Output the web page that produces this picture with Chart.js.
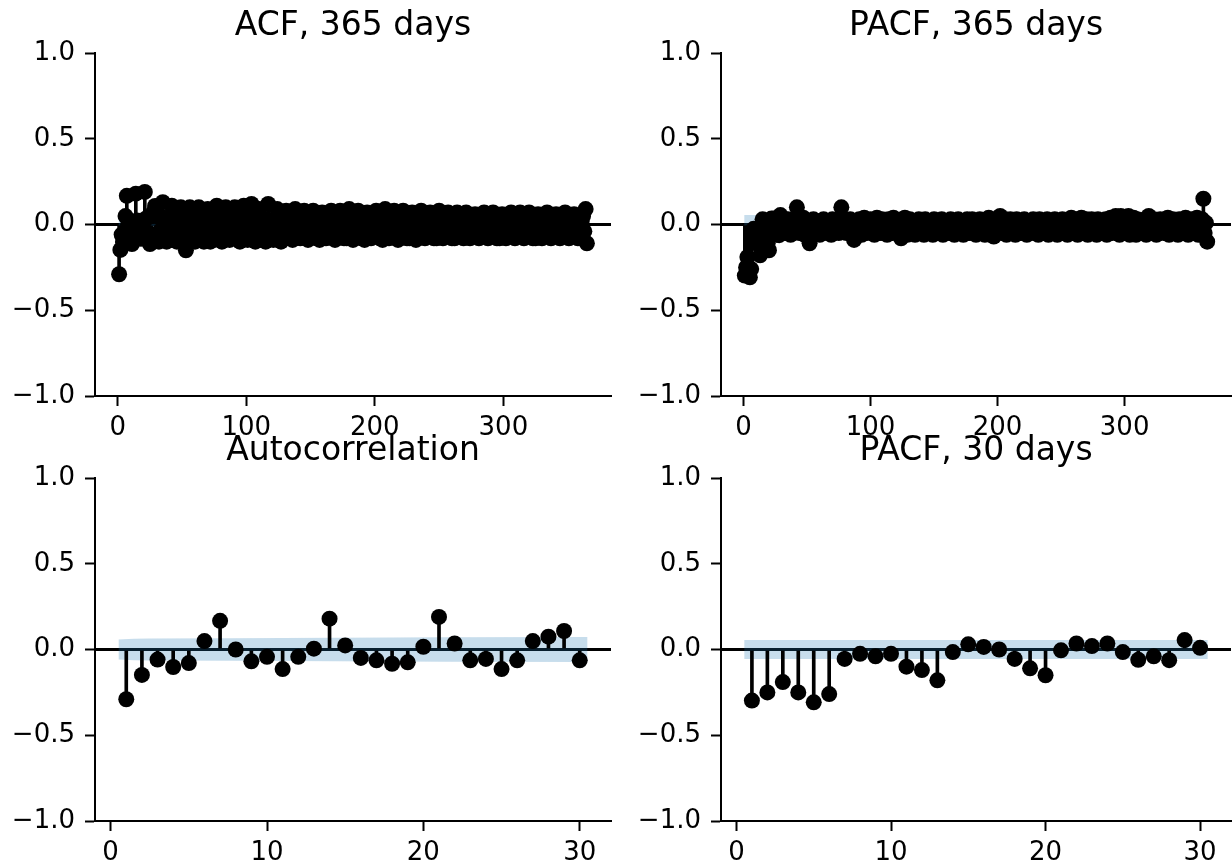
<!DOCTYPE html>
<html>
<head>
<meta charset="utf-8">
<script src="https://cdn.jsdelivr.net/npm/chart.js@4.4.1/dist/chart.umd.min.js"></script>
<style>
  html, body { margin: 0; padding: 0; background: #fff; }
  body { width: 1232px; height: 868px; position: relative; overflow: hidden; }
  canvas { position: absolute; }
</style>
</head>
<body>
<canvas id="acfLong"  width="616" height="442" style="left:0;top:0"></canvas>
<canvas id="pacfLong" width="616" height="442" style="left:616px;top:0"></canvas>
<canvas id="acfShort" width="616" height="443" style="left:0;top:425px"></canvas>
<canvas id="pacfShort" width="616" height="443" style="left:616px;top:425px"></canvas>
<script>
// ACF / PACF plots - lag values

// --- lags 1..30 ---
const acf30 = [
  -0.29, -0.148, -0.059, -0.102, -0.079, 0.049, 0.167, 0.0, -0.069, -0.043,
  -0.114, -0.043, 0.005, 0.18, 0.024, -0.049, -0.063, -0.083, -0.075, 0.016,
  0.19, 0.035, -0.063, -0.055, -0.114, -0.063, 0.049, 0.075, 0.108, -0.063
];
const pacf30 = [
  -0.298, -0.25, -0.19, -0.25, -0.308, -0.26, -0.055, -0.025, -0.04, -0.025,
  -0.10, -0.12, -0.18, -0.015, 0.03, 0.015, 0.0, -0.055, -0.11, -0.15,
  -0.005, 0.035, 0.02, 0.035, -0.015, -0.06, -0.04, -0.062, 0.055, 0.01
];

// --- lags 31..365 (blob in the top panels, estimated) ---
const acfTail = [
  -0.05, -0.10, -0.04, 0.03, 0.13, 0.04, -0.06, -0.10, -0.05, -0.08,
  0.02, 0.11, 0.05, -0.07, -0.04, -0.10, -0.06, 0.01, 0.10, 0.03,
  -0.06, -0.09, -0.15, -0.05, 0.04, 0.10, 0.02, -0.07, -0.04, -0.10,
  -0.05, 0.03, 0.10, 0.04, -0.08, -0.05, -0.10, -0.03, 0.02, 0.09,
  -0.04, -0.10, -0.06, -0.08, 0.01, 0.05, 0.11, 0.02, -0.07, -0.05,
  -0.10, -0.04, 0.03, 0.10, 0.04, -0.06, -0.09, -0.05, -0.07, 0.02,
  0.10, 0.03, -0.08, -0.05, -0.10, -0.04, 0.04, 0.11, 0.02, -0.06,
  -0.09, -0.05, 0.05, 0.12, 0.03, -0.07, -0.10, -0.04, 0.02, 0.09,
  0.04, -0.06, -0.08, -0.05, -0.10, 0.03, 0.12, 0.02, -0.07, -0.04,
  -0.09, -0.05, 0.02, 0.09, 0.03, -0.06, -0.10, -0.04, -0.07, 0.01,
  0.08, 0.04, -0.05, -0.08, -0.06, -0.09, 0.02, 0.09, 0.03, -0.06,
  -0.04, -0.08, -0.05, 0.03, 0.08, 0.02, -0.07, -0.09, -0.05, -0.06,
  0.02, 0.08, 0.04, -0.05, -0.08, -0.04, -0.09, 0.01, 0.07, 0.03,
  -0.06, -0.08, -0.05, -0.07, 0.03, 0.08, 0.02, -0.05, -0.09, -0.04,
  -0.07, 0.02, 0.08, 0.03, -0.06, -0.08, -0.05, -0.08, 0.03, 0.09,
  0.02, -0.05, -0.09, -0.04, -0.07, 0.01, 0.08, 0.03, -0.06, -0.08,
  -0.05, -0.09, 0.02, 0.07, 0.04, -0.05, -0.08, -0.06, -0.07, 0.03,
  0.08, 0.02, -0.06, -0.08, -0.04, -0.09, 0.02, 0.09, 0.03, -0.05,
  -0.08, -0.05, -0.07, 0.02, 0.08, 0.03, -0.06, -0.09, -0.05, -0.07,
  0.03, 0.08, 0.02, -0.05, -0.08, -0.04, -0.08, 0.02, 0.07, 0.03,
  -0.06, -0.09, -0.05, -0.07, 0.03, 0.08, 0.02, -0.05, -0.08, -0.04,
  -0.07, 0.02, 0.07, 0.03, -0.06, -0.08, -0.05, -0.08, 0.02, 0.08,
  0.02, -0.05, -0.08, -0.04, -0.07, 0.02, 0.07, 0.03, -0.06, -0.08,
  -0.05, -0.08, 0.02, 0.07, 0.02, -0.05, -0.07, -0.04, -0.08, 0.03,
  0.07, 0.02, -0.06, -0.08, -0.05, -0.07, 0.02, 0.06, 0.03, -0.05,
  -0.08, -0.04, -0.07, 0.02, 0.07, 0.02, -0.06, -0.08, -0.05, -0.07,
  0.03, 0.07, 0.02, -0.05, -0.08, -0.04, -0.08, 0.02, 0.06, 0.03,
  -0.06, -0.08, -0.05, -0.07, 0.02, 0.07, 0.02, -0.05, -0.08, -0.04,
  -0.07, 0.03, 0.07, 0.02, -0.06, -0.08, -0.05, -0.07, 0.02, 0.07,
  0.03, -0.05, -0.08, -0.04, -0.08, 0.02, 0.06, 0.02, -0.06, -0.08,
  -0.05, -0.07, 0.02, 0.07, 0.03, -0.05, -0.08, -0.04, -0.07, 0.02,
  0.06, 0.02, -0.06, -0.08, -0.05, -0.07, 0.03, 0.07, 0.02, -0.05,
  -0.08, -0.04, -0.07, 0.02, 0.06, 0.03, -0.06, -0.08, -0.05, -0.07,
  0.02, 0.05, -0.04, 0.09, -0.11
];
const pacfTail = [
  -0.03, 0.01, -0.05, 0.02, 0.03, -0.02, -0.06, 0.01, -0.04, 0.02,
  -0.02, 0.10, 0.03, -0.05, 0.01, -0.03, 0.04, -0.06, 0.02, -0.02,
  -0.04, -0.11, 0.01, -0.03, 0.03, 0.02, -0.05, -0.02, 0.01, -0.06,
  0.02, -0.03, 0.03, -0.04, 0.01, -0.05, 0.02, -0.02, -0.06, 0.03,
  -0.03, 0.01, -0.04, 0.02, -0.05, 0.03, 0.10, -0.02, -0.04, 0.01,
  -0.05, 0.02, -0.02, 0.03, -0.04, 0.01, -0.09, -0.03, 0.02, -0.05,
  0.03, -0.02, -0.06, 0.01, 0.04, -0.03, -0.05, 0.02, -0.02, 0.03,
  -0.04, 0.01, -0.06, 0.02, 0.04, -0.03, 0.01, -0.05, 0.03, -0.02,
  -0.04, 0.02, -0.06, 0.03, -0.02, 0.01, -0.05, 0.04, -0.03, 0.02,
  -0.05, 0.01, -0.02, -0.08, 0.03, -0.04, 0.04, -0.02, -0.06, 0.01,
  0.03, -0.04, -0.02, 0.02, -0.06, 0.01, -0.03, 0.03, -0.05, 0.02,
  -0.02, -0.06, 0.03, -0.03, 0.01, -0.05, 0.02, -0.02, -0.06, 0.03,
  -0.03, 0.01, -0.05, 0.02, -0.02, 0.03, -0.06, 0.01, -0.04, 0.02,
  -0.02, -0.05, 0.03, -0.03, 0.01, -0.06, 0.02, -0.03, 0.03, -0.05,
  0.01, -0.02, -0.06, 0.02, -0.04, 0.03, -0.02, -0.05, 0.01, 0.03,
  -0.04, 0.02, -0.06, 0.01, -0.03, 0.03, -0.05, 0.02, -0.02, -0.06,
  0.02, -0.03, 0.04, -0.05, 0.01, -0.02, -0.07, 0.03, -0.03, 0.02,
  -0.04, 0.05, 0.02, -0.05, -0.02, 0.03, -0.06, 0.01, -0.03, 0.03,
  -0.05, 0.02, -0.02, -0.06, 0.03, -0.03, 0.01, -0.05, 0.02, -0.04,
  0.03, -0.02, -0.06, 0.01, -0.04, 0.02, -0.03, 0.03, -0.05, 0.01,
  -0.02, -0.06, 0.03, -0.03, 0.02, -0.05, 0.01, -0.04, 0.03, -0.06,
  0.02, -0.03, 0.01, -0.05, 0.03, -0.02, -0.06, 0.02, -0.04, 0.01,
  0.03, -0.05, -0.02, 0.02, -0.06, 0.01, -0.03, 0.04, -0.05, 0.02,
  -0.03, 0.03, -0.06, 0.01, -0.02, 0.04, -0.05, 0.02, -0.04, 0.03,
  -0.06, 0.01, -0.03, 0.03, -0.05, 0.02, -0.02, -0.06, 0.03, -0.03,
  0.02, -0.05, 0.01, -0.04, 0.03, -0.06, 0.02, -0.02, 0.04, -0.05,
  0.02, -0.03, 0.05, -0.04, 0.03, -0.06, 0.05, -0.02, 0.03, -0.05,
  0.04, -0.03, 0.05, -0.06, 0.02, -0.04, 0.04, -0.02, -0.06, 0.03,
  -0.03, 0.02, -0.05, 0.01, -0.04, 0.03, -0.06, 0.02, 0.05, -0.03,
  0.01, -0.05, 0.03, -0.02, -0.06, 0.02, -0.04, 0.03, -0.03, 0.01,
  -0.05, 0.03, -0.02, 0.04, -0.06, 0.01, -0.03, 0.03, -0.05, 0.02,
  -0.02, -0.06, 0.03, -0.04, 0.02, -0.05, 0.01, 0.04, -0.03, -0.06,
  0.02, -0.04, 0.03, -0.05, 0.01, -0.02, 0.04, -0.06, 0.02, -0.03,
  0.03, 0.15, -0.05, 0.01, -0.10
];
const acf365 = acf30.concat(acfTail);
const pacf365 = pacf30.concat(pacfTail);

// confidence band (half width) at a few lags
const acfBandLongLags = [0.5, 2, 10, 30, 60, 120, 200, 300, 365.5];
const acfBandLongHalf = [0.058, 0.063, 0.066, 0.072, 0.078, 0.085, 0.09, 0.094, 0.096];
const acfBandShortLags = [0.5, 1.5, 2.5, 7.5, 14.5, 21.5, 30.5];
const acfBandShortHalf = [0.058, 0.062, 0.064, 0.065, 0.068, 0.071, 0.073];
const pacfBandLongLags = [0.5, 365.5];
const pacfBandShortLags = [0.5, 30.5];
const pacfBandHalf = 0.055;

const ticksLong = [0, 100, 200, 300];
const ticksShort = [0, 10, 20, 30];
const yTicks = [-1, -0.5, 0, 0.5, 1];

Chart.defaults.font.family = "'DejaVu Sans', sans-serif";
Chart.defaults.color = '#000';

function toPoints(vals) {
  return vals.map((v, i) => ({ x: i + 1, y: v }));
}

function makeChart(id, title, vals, bandLags, bandHalf, xMin, xMax, xTicks, yAxisWidth, padRight, xAxisHeight) {
  const upper = bandLags.map((x, i) => ({ x: x, y: bandHalf[i] }));
  const lower = bandLags.map((x, i) => ({ x: x, y: -bandHalf[i] }));
  const pts = toPoints(vals);
  return new Chart(document.getElementById(id), {
    type: 'scatter',
    data: {
      datasets: [
        { type: 'line', data: lower, borderWidth: 0, pointRadius: 0, fill: false, order: 5 },
        { type: 'line', data: upper, borderWidth: 0, pointRadius: 0, fill: '-1',
          backgroundColor: 'rgba(31,119,180,0.25)', order: 4 },
        { type: 'scatter', data: pts, pointRadius: 8, pointBorderWidth: 0,
          pointBackgroundColor: '#000', order: 1 },
        { type: 'bar', data: pts, barThickness: 3, backgroundColor: '#000', order: 2 }
      ]
    },
    options: {
      responsive: false,
      animation: false,
      events: [],
      layout: { autoPadding: false, padding: { left: 0, right: padRight, top: 0, bottom: 0 } },
      plugins: {
        legend: { display: false },
        tooltip: { enabled: false },
        title: {
          display: true, text: title, fullSize: false, color: '#000',
          font: { size: 33, weight: 'normal', lineHeight: 1.2 },
          padding: { top: 6.5, bottom: 6.9 }
        }
      },
      scales: {
        x: {
          type: 'linear', min: xMin, max: xMax, offset: false,
          afterBuildTicks: s => { s.ticks = xTicks.map(v => ({ value: v })); },
          afterFit: s => { s.height = xAxisHeight; },
          ticks: { autoSkip: false, maxRotation: 0, padding: 7, font: { size: 26 } },
          grid: { offset: false, drawOnChartArea: false, tickColor: '#000', tickWidth: 2, tickLength: 10 },
          border: { display: true, color: '#000', width: 2 }
        },
        y: {
          type: 'linear', min: -1, max: 1,
          afterBuildTicks: s => { s.ticks = yTicks.map(v => ({ value: v })); },
          afterFit: s => { s.width = yAxisWidth; },
          ticks: {
            padding: 10, font: { size: 26 },
            callback: v => v.toFixed(1).replace('-', '\u2212')
          },
          grid: {
            color: c => (c.tick && c.tick.value === 0) ? '#000' : 'rgba(0,0,0,0)',
            lineWidth: c => (c.tick && c.tick.value === 0) ? 3 : 1,
            tickColor: '#000', tickWidth: 2, tickLength: 10
          },
          border: { display: true, color: '#000', width: 2 }
        }
      }
    }
  });
}

const pacfBandLongHalf = pacfBandLongLags.map(() => pacfBandHalf);
const pacfBandShortHalf = pacfBandShortLags.map(() => pacfBandHalf);

makeChart('acfLong', 'ACF, 365 days', acf365, acfBandLongLags, acfBandLongHalf,
  -17.75, 383.75, ticksLong, 95, 5, 46);
makeChart('pacfLong', 'PACF, 365 days', pacf365, pacfBandLongLags, pacfBandLongHalf,
  -17.75, 383.75, ticksLong, 105, 1, 46);
makeChart('acfShort', 'Autocorrelation', acf30, acfBandShortLags, acfBandShortHalf,
  -1, 32, ticksShort, 95, 5, 47);
makeChart('pacfShort', 'PACF, 30 days', pacf30, pacfBandShortLags, pacfBandShortHalf,
  -1, 32, ticksShort, 105, 1, 47);
</script>
</body>
</html>
